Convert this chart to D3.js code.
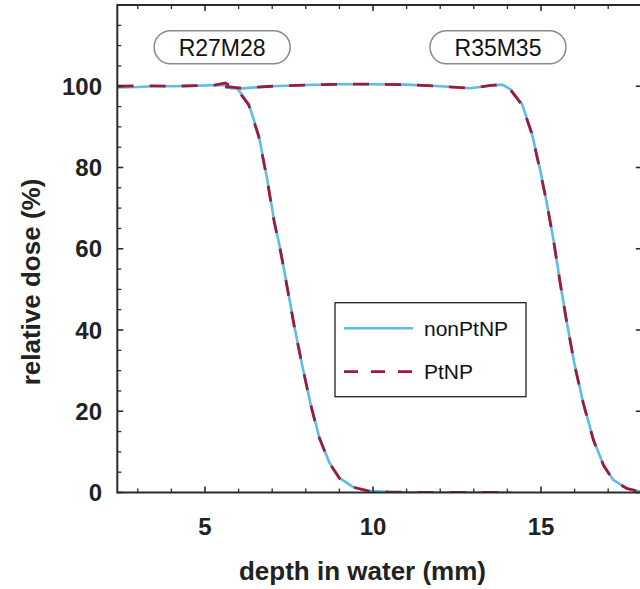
<!DOCTYPE html>
<html>
<head>
<meta charset="utf-8">
<script src="https://cdn.jsdelivr.net/npm/d3@7"></script>
<style>
  html, body { margin: 0; padding: 0; background: #fff; }
  svg { display: block; font-family: "Liberation Sans", Arial, Helvetica, sans-serif; }
</style>
</head>
<body>
<svg id="chart" width="640" height="589"></svg>
<script>
// Depth-dose profiles (depth in mm, relative dose in %)
const depthR27 = [2.4, 3.0, 3.5, 4.0, 4.5, 5.0, 5.3, 5.6, 5.95, 6.3, 6.6, 6.85, 7.05, 7.25, 7.45, 7.65, 7.9, 8.15, 8.4, 8.7, 9.0, 9.4, 9.85, 10.5, 11.5, 12.5, 13.5, 14.15];
const nonPtNP_R27 = [99.7, 99.8, 100.0, 100.0, 100.1, 100.2, 100.3, 100.2, 99.6, 95.7, 87.9, 77.2, 67.3, 59.5, 50.5, 41.3, 31.0, 21.5, 13.6, 7.4, 3.6, 1.4, 0.4, 0.1, 0.0, 0.0, 0.0, 0.0];
const PtNP_R27    = [100.0, 100.1, 100.1, 100.0, 100.1, 100.2, 100.3, 100.8, 99.3, 95.4, 87.6, 77.0, 67.0, 59.3, 50.3, 41.2, 31.0, 21.5, 13.5, 7.3, 3.5, 1.3, 0.4, 0.1, 0.0, 0.0, 0.0, 0.0];

const depthR35 = [5.6, 6.0, 6.3, 7.0, 8.0, 9.0, 10.0, 11.0, 12.0, 12.9, 13.5, 13.85, 14.1, 14.43, 14.72, 14.97, 15.17, 15.37, 15.57, 15.77, 16.01, 16.26, 16.56, 16.86, 17.15, 17.55, 17.95];
const nonPtNP_R35 = [99.7, 99.4, 99.6, 100.0, 100.3, 100.5, 100.5, 100.4, 100.0, 99.5, 100.2, 100.4, 99.2, 95.7, 88.7, 79.6, 71.4, 62.3, 51.7, 41.8, 31.1, 22.0, 13.0, 6.8, 3.1, 1.0, 0.2];
const PtNP_R35    = [99.9, 99.6, 99.7, 100.0, 100.3, 100.5, 100.5, 100.4, 100.0, 99.5, 100.2, 100.4, 99.0, 95.5, 88.5, 79.4, 71.3, 62.2, 51.6, 41.7, 31.0, 21.9, 12.9, 6.7, 3.0, 1.0, 0.2];

const xTicks = [5, 10, 15];
const yTicks = [0, 20, 40, 60, 80, 100];
const seriesNames = ["nonPtNP", "PtNP"];
const beamLabels = [
  { text: "R27M28", depth: 5.51 },
  { text: "R35M35", depth: 13.72 }
];

const svg = d3.select("#chart");
const padL = 117.3, padR = 641.8, padT = 5, padB = 492.5;

const x = d3.scaleLinear().domain([2.39, 18]).range([padL, padR]);
const y = d3.scaleLinear().domain([0, 120]).range([padB, padT]);

const axisColor = "#2b2b2b";
const blue = "#5bbde8";
const red = "#9e1a3c";

// Curves
const line = d3.line().x(d => x(d[0])).y(d => y(d[1]));
svg.append("defs").append("clipPath").attr("id", "plotClip")
  .append("rect").attr("x", padL).attr("y", padT).attr("width", padR - padL).attr("height", padB - padT);

const plot = svg.append("g").attr("clip-path", "url(#plotClip)");
const pair = (xs, ys) => xs.map((v, i) => [v, ys[i]]);

[[depthR27, nonPtNP_R27], [depthR35, nonPtNP_R35]].forEach(([xs, ys]) => {
  plot.append("path").datum(pair(xs, ys))
    .attr("d", line).attr("fill", "none")
    .attr("stroke", blue).attr("stroke-width", 2.6)
    .attr("stroke-linejoin", "round");
});
[[depthR27, PtNP_R27], [depthR35, PtNP_R35]].forEach(([xs, ys]) => {
  plot.append("path").datum(pair(xs, ys))
    .attr("d", line).attr("fill", "none")
    .attr("stroke", red).attr("stroke-width", 2.8)
    .attr("stroke-dasharray", "16,16");
});

// Axes with inward ticks
const minorX = d3.range(3, 19, 1).filter(v => v % 5 !== 0);
const minorY = d3.range(5, 120, 5).filter(v => v % 20 !== 0);

const axG = svg.append("g").attr("stroke", axisColor);

function tickLines(g, data, fn) {
  g.selectAll(null).data(data).enter().append("line").each(fn);
}
// bottom
tickLines(axG, xTicks, function(v){ d3.select(this).attr("x1", x(v)).attr("x2", x(v)).attr("y1", padB).attr("y2", padB - 6).attr("stroke-width", 1.6); });
tickLines(axG, minorX, function(v){ d3.select(this).attr("x1", x(v)).attr("x2", x(v)).attr("y1", padB).attr("y2", padB - 4).attr("stroke-width", 1.3); });
// top
tickLines(axG, xTicks, function(v){ d3.select(this).attr("x1", x(v)).attr("x2", x(v)).attr("y1", padT).attr("y2", padT + 6).attr("stroke-width", 1.6); });
tickLines(axG, minorX, function(v){ d3.select(this).attr("x1", x(v)).attr("x2", x(v)).attr("y1", padT).attr("y2", padT + 4).attr("stroke-width", 1.3); });
// left
tickLines(axG, yTicks, function(v){ d3.select(this).attr("x1", padL).attr("x2", padL + 6).attr("y1", y(v)).attr("y2", y(v)).attr("stroke-width", 1.6); });
tickLines(axG, minorY, function(v){ d3.select(this).attr("x1", padL).attr("x2", padL + 4).attr("y1", y(v)).attr("y2", y(v)).attr("stroke-width", 1.3); });
// right
tickLines(axG, yTicks, function(v){ d3.select(this).attr("x1", padR).attr("x2", padR - 6).attr("y1", y(v)).attr("y2", y(v)).attr("stroke-width", 1.6); });

axG.append("rect").attr("x", padL).attr("y", padT).attr("width", padR - padL).attr("height", padB - padT)
  .attr("fill", "none").attr("stroke-width", 2);

// Tick labels
svg.append("g").selectAll("text").data(xTicks).enter().append("text")
  .attr("x", d => x(d)).attr("y", 535)
  .attr("text-anchor", "middle").attr("font-size", 24).attr("font-weight", "bold").attr("fill", "#222")
  .text(d => d);
svg.append("g").selectAll("text").data(yTicks).enter().append("text")
  .attr("x", 102).attr("y", d => y(d)).attr("dy", "0.36em")
  .attr("text-anchor", "end").attr("font-size", 24).attr("font-weight", "bold").attr("fill", "#222")
  .text(d => d);

// Axis titles
svg.append("text").attr("x", 362.5).attr("y", 580)
  .attr("text-anchor", "middle").attr("font-size", 26).attr("font-weight", "bold").attr("fill", "#222")
  .text("depth in water (mm)");
svg.append("text").attr("transform", "translate(40,282) rotate(-90)")
  .attr("text-anchor", "middle").attr("font-size", 26).attr("font-weight", "bold").attr("fill", "#222")
  .text("relative dose (%)");

// Beam labels in rounded boxes
const pillW = 136, pillH = 33;
const pills = svg.append("g").selectAll("g").data(beamLabels).enter().append("g")
  .attr("transform", d => `translate(${x(d.depth)},${y(109.6)})`);
pills.append("rect").attr("x", -pillW / 2).attr("y", -pillH / 2).attr("width", pillW).attr("height", pillH)
  .attr("rx", pillH / 2).attr("fill", "#fff").attr("stroke", "#8a8a8a").attr("stroke-width", 1.5);
pills.append("text").attr("text-anchor", "middle").attr("dy", "0.36em")
  .attr("font-size", 23).attr("fill", "#111").text(d => d.text);

// Legend
const lg = svg.append("g");
lg.append("rect").attr("x", 335).attr("y", 302.7).attr("width", 191).attr("height", 94)
  .attr("fill", "#fff").attr("stroke", "#222").attr("stroke-width", 1.3);
const legendStyles = [
  { color: blue, dash: null, w: 2.6 },
  { color: red, dash: "14,13", w: 2.8 }
];
seriesNames.forEach((name, i) => {
  const ly = 328.3 + i * 43.4;
  const s = legendStyles[i];
  lg.append("line").attr("x1", 344).attr("x2", 413).attr("y1", ly).attr("y2", ly)
    .attr("stroke", s.color).attr("stroke-width", s.w).attr("stroke-dasharray", s.dash);
  lg.append("text").attr("x", 424).attr("y", ly).attr("dy", "0.36em")
    .attr("font-size", 21).attr("fill", "#111").text(name);
});
</script>
</body>
</html>
